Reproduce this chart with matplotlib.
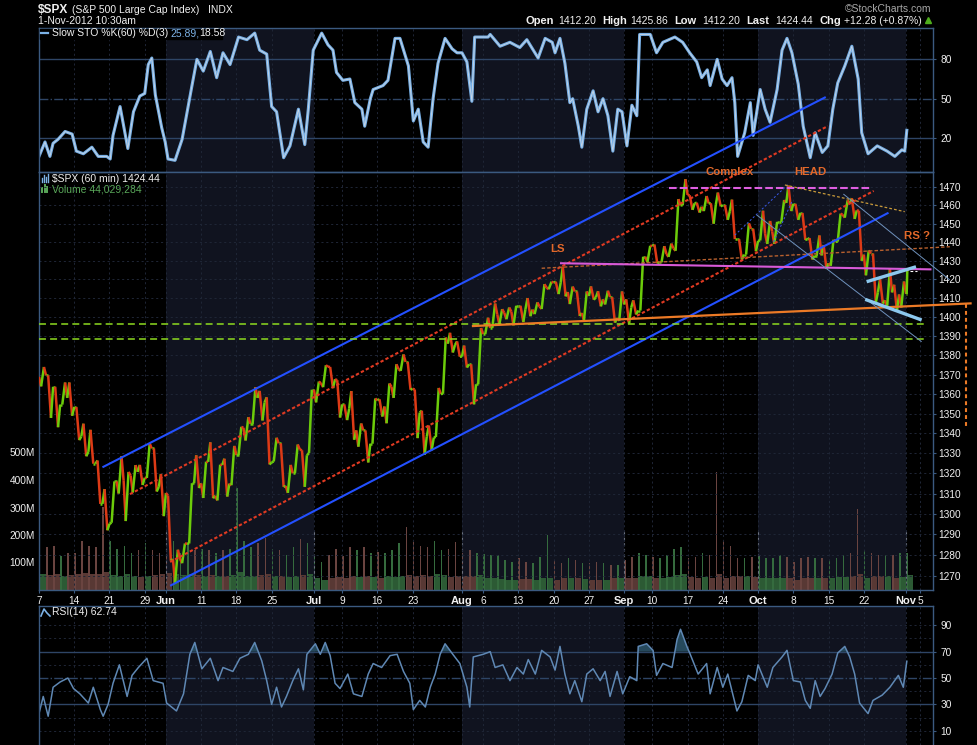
#!/usr/bin/env python3

"""$SPX 60 minute chart with slow stochastics, volume and RSI, StockCharts style."""

import matplotlib
matplotlib.use("Agg")
import matplotlib.pyplot as plt
from matplotlib.collections import LineCollection
from matplotlib.lines import Line2D
from matplotlib.patches import Rectangle
from matplotlib.ticker import NullLocator, NullFormatter

plt.rcParams['font.family'] = ['Liberation Sans', 'DejaVu Sans']
plt.rcParams['lines.scale_dashes'] = False

W, H = 977, 745

# x axis is the trading day number, 0 = 7 May 2012 ... 123 = 1 Nov 2012
tick_days = [0, 5, 10, 15, 18, 23, 28, 33, 39, 43, 48, 53, 60, 63, 68, 73, 78,
             83, 87, 92, 97, 102, 107, 112, 117, 123, 125]
tick_labels = ['7', '14', '21', '29', 'Jun', '11', '18', '25', 'Jul', '9', '16', '23',
               'Aug', '6', '13', '20', '27', 'Sep', '10', '17', '24', 'Oct', '8', '15',
               '22', 'Nov', '5']
month_starts = [18, 39, 60, 83, 102, 123]
shaded_months = [(18, 39), (60, 83), (102, 123)]

# daily prices (May, Jun, Jul, Aug, Sep, Oct + 1 Nov)
first_open = 1368.8
closes = [
    1369.6, 1363.7, 1354.6, 1358.0, 1353.4, 1338.4, 1330.7, 1324.8, 1304.9, 1295.2,
    1316.0, 1316.6, 1318.9, 1320.7, 1317.8, 1332.4, 1313.3, 1310.3,
    1278.0, 1278.2, 1285.5, 1315.1, 1315.0, 1325.7, 1308.9, 1324.2, 1314.9, 1329.1,
    1342.8, 1344.8, 1358.0, 1355.7, 1325.5, 1335.0, 1313.7, 1320.0, 1331.9, 1329.0, 1362.2,
    1365.5, 1374.0, 1367.6, 1354.7, 1352.5, 1341.5, 1341.5, 1334.8, 1356.8, 1353.6,
    1363.7, 1372.8, 1376.5, 1362.7, 1350.5, 1338.3, 1337.9, 1360.0, 1386.0, 1385.3, 1379.3,
    1375.3, 1365.0, 1391.0, 1394.2, 1401.4, 1402.2, 1402.8, 1405.9, 1404.1, 1403.9,
    1405.5, 1415.5, 1418.2, 1418.1, 1413.2, 1413.5, 1402.1, 1411.1, 1410.4, 1409.3,
    1410.5, 1399.5, 1406.6,
    1404.9, 1403.4, 1432.1, 1437.9, 1429.1, 1433.6, 1436.6, 1460.0, 1465.8, 1461.2,
    1459.3, 1461.1, 1460.3, 1460.2, 1456.9, 1441.6, 1433.3, 1447.2, 1440.7,
    1444.5, 1445.8, 1451.0, 1461.4, 1460.9, 1455.9, 1441.5, 1432.6, 1432.8, 1428.6,
    1440.1, 1454.9, 1460.9, 1457.3, 1433.2, 1433.8, 1413.1, 1408.8, 1413.0, 1411.9,
    1412.2, 1424.4,
]
highs = [
    1373.9, 1369.6, 1363.7, 1365.9, 1365.9, 1353.4, 1344.9, 1341.8, 1326.4, 1312.2,
    1316.0, 1328.5, 1320.7, 1324.1, 1324.2, 1334.9, 1332.4, 1319.7,
    1309.0, 1282.6, 1285.6, 1315.1, 1329.0, 1325.8, 1335.5, 1324.3, 1327.3, 1333.7,
    1343.3, 1348.2, 1363.5, 1361.6, 1358.3, 1337.8, 1335.0, 1324.2, 1334.4, 1331.5, 1362.2,
    1366.4, 1374.8, 1373.9, 1367.1, 1354.7, 1361.5, 1345.0, 1341.5, 1357.7, 1357.3,
    1365.4, 1375.3, 1380.4, 1376.5, 1362.3, 1351.5, 1343.9, 1363.1, 1389.2, 1391.7, 1387.2,
    1385.0, 1375.3, 1394.2, 1399.6, 1407.1, 1404.1, 1405.0, 1405.9, 1405.9, 1410.0,
    1407.7, 1417.4, 1418.7, 1418.7, 1426.7, 1416.1, 1413.5, 1413.5, 1416.2, 1413.6,
    1413.9, 1410.5, 1413.5,
    1409.3, 1408.8, 1432.1, 1438.0, 1438.7, 1437.8, 1439.2, 1463.5, 1474.5, 1465.6,
    1461.5, 1465.2, 1461.2, 1467.1, 1460.2, 1463.2, 1441.6, 1450.2, 1447.2,
    1457.1, 1451.5, 1451.0, 1463.0, 1471.0, 1460.9, 1455.9, 1442.2, 1443.6, 1438.4,
    1441.3, 1455.5, 1462.8, 1464.0, 1457.1, 1435.5, 1433.8, 1420.0, 1425.5, 1417.1,
    1418.8, 1425.9,
]
lows = [
    1363.9, 1347.8, 1343.1, 1354.6, 1348.9, 1336.6, 1328.5, 1324.8, 1304.9, 1292.0,
    1295.7, 1310.0, 1296.5, 1310.5, 1314.2, 1317.7, 1311.0, 1298.9,
    1277.3, 1266.7, 1276.1, 1285.6, 1312.7, 1307.8, 1307.7, 1306.6, 1308.5, 1314.1,
    1329.1, 1336.4, 1344.8, 1346.5, 1324.4, 1325.9, 1313.3, 1310.3, 1320.0, 1313.3, 1330.1,
    1355.7, 1363.5, 1363.0, 1348.0, 1346.7, 1336.8, 1333.3, 1325.4, 1334.8, 1348.5,
    1345.1, 1358.0, 1371.9, 1362.2, 1337.6, 1329.2, 1331.5, 1338.2, 1360.1, 1381.4, 1379.2,
    1373.6, 1354.7, 1365.0, 1391.0, 1394.2, 1396.1, 1398.8, 1395.6, 1397.3, 1400.4,
    1401.5, 1404.2, 1414.7, 1412.1, 1410.9, 1406.8, 1400.5, 1398.0, 1409.1, 1405.6,
    1406.6, 1397.0, 1398.0,
    1396.6, 1401.3, 1403.4, 1429.1, 1428.6, 1429.1, 1432.0, 1435.3, 1460.1, 1457.6,
    1456.1, 1456.9, 1450.0, 1459.5, 1452.1, 1441.6, 1430.5, 1433.3, 1435.0,
    1440.9, 1439.0, 1439.0, 1451.0, 1456.9, 1452.1, 1441.2, 1430.6, 1432.6, 1425.5,
    1427.2, 1440.3, 1453.3, 1452.6, 1429.9, 1422.1, 1407.6, 1407.1, 1405.1, 1403.3,
    1405.0, 1412.2,
]

# hourly volume, millions: the big bar of each day and the ordinary bars
vol_peak = [
    127, 157, 160, 124, 136, 136, 178, 160, 155, 303, 178, 150, 160, 133, 145, 170, 145, 133,
    127, 178, 133, 170, 145, 150, 145, 133, 145, 150, 371, 178, 155, 170, 190, 150, 145,
    127, 155, 184, 170,
    127, 103, 127, 150, 124, 155, 145, 155, 133, 139, 133, 145, 170, 230, 176, 160, 155,
    178, 145, 150, 176,
    136, 145, 136, 130, 127, 127, 109, 103, 115, 103, 97, 121, 200, 109, 97, 115, 109,
    97, 97, 103, 97, 91, 91,
    109, 121, 133, 127, 121, 115, 127, 150, 155, 115, 121, 133, 127, 430, 180, 160, 115,
    115, 121,
    127, 115, 115, 127, 121, 103, 115, 121, 115, 115, 109, 115, 127, 133, 295, 145, 133,
    127, 127, 127, 133, 136,
]
vol_base = [
    58, 55, 60, 52, 55, 60, 62, 58, 60, 65, 55, 52, 58, 50, 48, 52, 55, 58,
    62, 60, 55, 58, 55, 52, 55, 50, 52, 55, 65, 52, 50, 55, 58, 52, 50, 48, 52, 55, 60,
    45, 35, 45, 48, 45, 50, 48, 52, 48, 45, 50, 48, 50, 55, 52, 55, 50, 58, 55, 48, 50,
    52, 50, 55, 42, 45, 40, 38, 38, 40, 40, 38, 42, 45, 38, 45, 42, 45, 40, 35, 38, 38,
    42, 45,
    45, 42, 52, 50, 45, 45, 48, 55, 58, 48, 45, 48, 45, 60, 45, 50, 52, 50, 48,
    45, 45, 42, 45, 45, 38, 42, 45, 45, 45, 42, 48, 48, 50, 58, 45, 52, 50, 50, 45, 48, 55,
]

sto_day = [
    0.0, 0.85, 1.55, 2.0, 2.7, 3.7, 4.7, 5.3, 6.3, 7.5, 8.4, 9.6, 10.1, 10.5, 11.5, 12.6,
    13.4, 14.3, 15.0, 15.5, 16.0, 16.5, 17.4, 17.9, 18.3, 19.3, 20.3, 21.7, 22.4, 23.3,
    24.3, 25.2, 26.1, 27.1, 28.3, 29.5, 30.6, 31.3, 32.3, 33.0, 33.7, 34.7, 35.6, 36.8,
    37.7, 38.2, 38.9, 40.1, 41.0, 41.7, 42.2, 43.1, 44.1, 44.8, 45.8, 46.2, 47.0, 47.4,
    48.8, 49.5, 50.5, 51.2, 52.4, 53.1, 53.8, 54.5, 55.2, 55.9, 56.6, 57.6, 58.6, 59.3,
    60.0, 60.7, 61.4, 61.8, 63.7, 64.0, 65.4, 66.8, 68.2, 69.2, 70.8, 71.8, 72.8, 73.2,
    73.9, 74.6, 75.3, 75.7, 76.5, 77.0, 77.7, 78.6, 79.3, 80.0, 80.7, 81.4, 82.1, 82.7,
    83.4, 84.1, 84.8, 85.2, 86.7, 87.6, 88.5, 90.2, 91.3, 92.3, 93.3, 94.0, 94.8, 95.2,
    96.2, 96.9, 97.6, 98.3, 98.7, 99.1, 100.1, 100.9, 101.3, 102.3, 103.0, 103.7, 104.7,
    105.4, 106.1, 106.8, 107.7, 108.4, 109.4, 110.1, 111.1, 111.9, 112.6, 113.3, 114.3,
    115.3, 116.2, 116.7, 117.6, 118.9, 120.3, 121.4, 122.4, 122.8, 123.1,
]
sto_val = [
    6, 17, 6, 16, 19, 25, 23, 10, 8, 13, 6, 6, 4, 22, 44, 12,
    40, 52, 54, 76, 81, 53, 28, 17, 4, 3, 19, 60, 80, 71,
    86, 66, 85, 76, 97, 95, 100, 87, 84, 44, 40, 5, 14, 42,
    15, 42, 87, 100, 91, 87, 70, 64, 65, 47, 42, 29, 50, 57,
    60, 64, 96, 96, 75, 33, 42, 17, 13, 50, 77, 96, 88, 85,
    85, 78, 48, 97, 97, 99, 90, 93, 89, 95, 81, 96, 93, 85,
    96, 77, 47, 50, 29, 13, 42, 56, 40, 50, 37, 10, 42, 40,
    14, 45, 37, 99, 99, 85, 93, 97, 93, 85, 78, 66, 72, 60,
    80, 65, 60, 66, 47, 6, 24, 47, 22, 57, 42, 32, 57,
    87, 96, 85, 61, 29, 5, 24, 9, 14, 42, 62, 75,
    90, 65, 24, 8, 14, 10, 6, 11, 10, 25.89,
]

rsi_day = [
    0.0, 0.6, 1.3, 2.0, 3.0, 4.1, 4.9, 5.8, 7.0, 7.7, 8.7, 9.1, 9.8, 10.5, 11.4, 12.5,
    13.2, 14.1, 15.3, 16.2, 17.6, 18.1, 19.5, 20.5, 21.4, 22.1, 23.1, 24.3, 25.4, 26.1,
    27.5, 28.5, 29.7, 30.6, 31.6, 32.3, 33.0, 33.7, 34.4, 35.1, 36.0, 36.8, 37.5, 38.0,
    39.2, 39.9, 40.6, 41.3, 42.0, 42.7, 43.8, 44.6, 45.8, 46.7, 47.4, 48.6, 49.8, 50.8,
    51.7, 52.6, 53.1, 54.0, 54.8, 55.5, 56.2, 56.9, 57.6, 58.7, 59.7, 60.7, 61.1, 61.6,
    63.0, 64.0, 64.7, 65.8, 66.8, 67.8, 68.7, 69.4, 70.4, 71.3, 72.5, 73.2, 73.9, 74.6,
    75.3, 76.0, 77.0, 77.7, 78.6, 79.6, 80.3, 81.0, 82.0, 82.8, 83.8, 84.8, 85.0, 86.2,
    87.1, 87.6, 88.5, 89.8, 90.5, 91.0, 91.9, 92.3, 93.5, 94.7, 95.2, 96.2, 97.0, 97.7,
    99.0, 99.7, 100.6, 101.6, 102.0, 103.3, 104.1, 105.4, 106.1, 107.0, 108.0, 108.7,
    109.4, 110.1, 110.8, 111.5, 112.5, 113.3, 114.3, 115.0, 115.7, 116.4, 117.6, 118.3,
    119.6, 120.7, 121.9, 122.6, 123.1,
]
rsi_val = [
    23, 36, 21, 43, 47, 50, 42, 38, 31, 43, 26, 21, 30, 46, 60, 36,
    52, 58, 65, 48, 46, 31, 25, 38, 68, 77, 57, 65, 48, 58,
    55, 65, 68, 77, 63, 48, 30, 43, 28, 36, 48, 57, 41, 68,
    76, 68, 77, 67, 46, 42, 53, 38, 36, 53, 61, 58, 67, 68,
    55, 46, 26, 33, 28, 43, 53, 68, 76, 68, 61, 43, 28, 66,
    68, 70, 58, 60, 48, 58, 53, 64, 53, 71, 66, 56, 74, 53,
    38, 48, 32, 53, 57, 48, 55, 36, 55, 38, 51, 48, 74, 76,
    71, 52, 61, 58, 79, 87, 74, 69, 53, 61, 38, 58, 43, 53,
    25, 32, 52, 48, 60, 43, 58, 66, 71, 48, 47, 33,
    27, 48, 36, 42, 53, 69, 74, 66, 53, 31, 23, 33,
    37, 43, 52, 43, 62.74,
]

price_ticks = [1270, 1280, 1290, 1300, 1310, 1320, 1330, 1340, 1350, 1360, 1370,
               1380, 1390, 1400, 1410, 1420, 1430, 1440, 1450, 1460, 1470]
volume_ticks = [100, 200, 300, 400, 500]

# hand drawn annotations, (trading day, price) end points
blue_upper = [(9.0, 1323.0), (111.6, 1520.8)]
blue_lower = [(18.6, 1265.3), (120.5, 1456.0)]
red_upper = [(12.9, 1309.7), (111.9, 1504.3)]
red_lower = [(18.6, 1276.7), (118.4, 1468.0)]
green_levels = [1396.1, 1388.3]
neckline = [(61.4, 1395.2), (132.3, 1407.2)]
ls_dashed = [(71.3, 1425.9), (129.2, 1437.5)]
magenta_line = [(73.9, 1428.6), (126.6, 1425.3)]
top_dashed = [(89.3, 1469.8), (118.1, 1469.8)]
small_blue_a = [(98.7, 1443.8), (106.3, 1471.8)]
small_blue_b = [(104.2, 1440.1), (106.8, 1462.1)]
head_line = [(105.8, 1471.3), (122.8, 1456.6)]
steel_a = [(101.8, 1454.8), (125.2, 1387.0)]
steel_b = [(114.1, 1466.3), (129.2, 1419.6)]
wedge_upper = [(117.4, 1418.7), (124.4, 1426.7)]
wedge_lower = [(117.2, 1409.3), (125.2, 1398.4)]
target_drop = [(131.5, 1407.0), (131.5, 1343.4)]

BG_SHADE = '#10131f'
SPINE = '#3b5a80'
GRID = '#1f2636'
LEVEL = '#2e4566'
UP = '#6ccc0a'
DOWN = '#dd3a16'
ORANGE = '#e2682a'
TXT = '#f0f0f0'


def fx(x):
    return x / W


def fy(y):
    return 1 - y / H


def style_axes(ax, shade=True):
    ax.set_facecolor('black')
    for side in ax.spines.values():
        side.set_color(SPINE)
        side.set_linewidth(1.0)
    ax.tick_params(colors=SPINE, labelcolor=TXT, labelsize=7.3, length=2, width=0.8)
    ax.set_xlim(0, 126.77)
    if shade:
        for a, b in shaded_months:
            ax.axvspan(a, b, color=BG_SHADE, lw=0, zorder=0)
    for d in tick_days:
        ax.axvline(d, color=GRID, lw=0.7, ls=(0, (1.5, 2)), zorder=0.5)


def draw_line(ax, pts, color, lw, dashes=None, z=4):
    (x0, y0), (x1, y1) = pts
    line, = ax.plot([x0, x1], [y0, y1], color=color, lw=lw, clip_on=False,
                    zorder=z, solid_capstyle='butt')
    if dashes:
        line.set_dashes(dashes)


def draw_price(ax):
    segs, cols = [], []
    prev = first_open
    last = len(closes) - 1
    for i in range(len(closes)):
        span = 0.25 if i == last else 1.0
        if closes[i] >= prev:
            path = [prev, lows[i], highs[i], closes[i]]
        else:
            path = [prev, highs[i], lows[i], closes[i]]
        xs = [i, i + 0.3 * span, i + 0.7 * span, i + span]
        for k in range(3):
            segs.append([(xs[k], path[k]), (xs[k + 1], path[k + 1])])
            cols.append(UP if path[k + 1] >= path[k] else DOWN)
        prev = closes[i]
    ax.add_collection(LineCollection(segs, colors=cols, linewidths=1.8, zorder=3))


def main():
    fig = plt.figure(figsize=(W / 100, H / 100), dpi=100, facecolor='black')
    width = (932.7 - 39) / W

    # slow stochastics panel
    ax_s = fig.add_axes([fx(39), fy(172), width, (172 - 28) / H])
    style_axes(ax_s)
    ax_s.set_ylim(-5.9, 103.9)
    for lvl in (20, 80):
        ax_s.axhline(lvl, color=LEVEL, lw=1.0, zorder=0.6)
    ax_s.axhline(50, color=LEVEL, lw=1.0, ls='-.', zorder=0.6)
    ax_s.plot(sto_day, sto_val, color='#78b0e6', lw=2.2, zorder=2)
    ax_s.plot(sto_day, sto_val, color='#c9d6e4', lw=0.6, zorder=2.1)
    ax_s.yaxis.tick_right()
    ax_s.set_yticks([20, 50, 80])
    ax_s.set_xticks([])

    # price + volume panel; month shading lives on the volume axes underneath
    ax = fig.add_axes([fx(39), fy(590), width, (590 - 172) / H])
    style_axes(ax, shade=False)
    ax_v = ax.twinx()
    ax.set_zorder(2)
    ax.patch.set_visible(False)
    for side in ax_v.spines.values():
        side.set_visible(False)

    ax.set_yscale('log')
    ax.set_ylim(1263.3, 1478.5)
    ax.yaxis.tick_right()
    ax.set_yticks(price_ticks, labels=[str(p) for p in price_ticks])
    ax.yaxis.set_minor_locator(NullLocator())
    ax.yaxis.set_minor_formatter(NullFormatter())
    for p in price_ticks:
        ax.axhline(p, color=GRID, lw=0.7, ls=(0, (1.5, 2)), zorder=0.5)

    ax.set_xticks(tick_days, labels=tick_labels)
    for lab in ax.get_xticklabels():
        if not lab.get_text().isdigit():
            lab.set_fontweight('bold')
            lab.set_fontsize(8)
    ax.tick_params(axis='x', pad=2)
    ax.tick_params(axis='y', pad=2)

    # volume
    ax_v.set_ylim(0, 1520)
    ax_v.yaxis.tick_left()
    ax_v.set_yticks(volume_ticks, labels=[f'{v}M' for v in volume_ticks])
    ax_v.tick_params(colors=SPINE, labelcolor=TXT, labelsize=7.3, length=0, pad=3)
    for a, b in shaded_months:
        ax_v.axvspan(a, b, color=BG_SHADE, lw=0, zorder=0)
    for d in month_starts:
        ax_v.axvline(d, ymax=0.14, color='#6c7280', lw=0.8, ls=(0, (2, 2)), zorder=2)
    days = list(range(len(closes)))
    prev = [first_open] + closes[:-1]
    base_cols = ['#2c5a34' if c >= p else '#583834' for c, p in zip(closes, prev)]
    peak_cols = ['#356b3e' if c >= p else '#6a4440' for c, p in zip(closes, prev)]
    ax_v.bar([d + 0.5 for d in days], vol_base, width=0.85, color=base_cols, lw=0, zorder=1)
    ax_v.bar([d + 0.1 for d in days], vol_peak, width=0.22, color=peak_cols, lw=0, zorder=1)

    draw_price(ax)

    # annotations
    draw_line(ax, blue_upper, '#2350ff', 1.5)
    draw_line(ax, blue_lower, '#2350ff', 1.5)
    draw_line(ax, red_upper, '#e03a22', 1.5, (2.4, 1.6))
    draw_line(ax, red_lower, '#e03a22', 1.5, (2.4, 1.6))
    for lvl in green_levels:
        draw_line(ax, [(0, lvl), (125.7, lvl)], '#8edb20', 1.1, (5, 3))
    draw_line(ax, neckline, '#ec7a26', 1.6)
    draw_line(ax, ls_dashed, '#b8602e', 1.0, (2.5, 1.5))
    draw_line(ax, magenta_line, '#d85ad8', 1.5)
    draw_line(ax, top_dashed, '#de5ee0', 1.5, (5.5, 2.2))
    draw_line(ax, small_blue_a, '#3a5ae8', 0.7, (1.5, 1.5))
    draw_line(ax, small_blue_b, '#3a5ae8', 0.7, (1.5, 1.5))
    draw_line(ax, head_line, '#c89a3a', 0.9, (2, 1.5))
    draw_line(ax, steel_a, '#6f92bd', 0.7)
    draw_line(ax, steel_b, '#6f92bd', 0.7)
    draw_line(ax, wedge_upper, '#8cc8ee', 2.4)
    draw_line(ax, wedge_lower, '#8cc8ee', 2.4)
    draw_line(ax, target_drop, '#ec7a26', 1.5, (2.8, 2.2))
    draw_line(ax, [(123.6, closes[-1]), (124.6, closes[-1])], 'white', 0.8, (2, 1.5))

    label_style = dict(color=ORANGE, fontsize=8.2, fontweight='bold',
                       ha='center', va='center', clip_on=False, zorder=6)
    ax.text(73.5, 1436.3, 'LS', **label_style)
    ax.text(98.0, 1478.5, 'Complex', **label_style)
    ax.text(109.4, 1478.5, 'HEAD', **label_style)
    ax.text(124.5, 1443.1, 'RS ?', **label_style)

    # RSI panel
    ax_r = fig.add_axes([fx(39), 0, width, (745 - 605.7) / H])
    style_axes(ax_r)
    ax_r.spines['bottom'].set_visible(False)
    ax_r.set_ylim(-0.85, 104.9)
    for lvl in (20, 40, 60, 80, 90, 10):
        ax_r.axhline(lvl, color=GRID, lw=0.7, ls=(0, (1.5, 2)), zorder=0.5)
    for lvl in (30, 70):
        ax_r.axhline(lvl, color=LEVEL, lw=1.0, zorder=0.6)
    ax_r.axhline(50, color=LEVEL, lw=1.0, ls='-.', zorder=0.6)
    ax_r.fill_between(rsi_day, rsi_val, 70, where=[v > 70 for v in rsi_val],
                      interpolate=True, color='#26495c', lw=0, zorder=1)
    ax_r.plot(rsi_day, rsi_val, color='#5f88b4', lw=1.1, zorder=2)
    ax_r.yaxis.tick_right()
    ax_r.set_yticks([10, 30, 50, 70, 90])
    ax_r.set_xticks([])

    # header
    fig.text(fx(37.5), fy(10), '$SPX', color=TXT, fontsize=8.6, fontweight='bold', va='center')
    fig.text(fx(72), fy(10), '(S&P 500 Large Cap Index)', color=TXT, fontsize=7.5, va='center')
    fig.text(fx(208), fy(10), 'INDX', color=TXT, fontsize=7.5, va='center')
    fig.text(fx(38), fy(20.5), '1-Nov-2012 10:30am', color=TXT, fontsize=7.5, va='center')
    fig.text(fx(931.5), fy(8.5), '\u00a9StockCharts.com', color='#a8a8a8', fontsize=7.5,
             ha='right', va='center')
    quote = [(526, 'Open', True), (558.5, '1412.20', False), (602.5, 'High', True),
             (630.5, '1425.86', False), (674, 'Low', True), (702.5, '1412.20', False),
             (746.5, 'Last', True), (775, '1424.44', False), (819, 'Chg', True),
             (844.5, '+12.28 (+0.87%)', False)]
    for x, s, bold in quote:
        fig.text(fx(x), fy(20.5), s, color=TXT, fontsize=8 if bold else 7.5,
                 fontweight='bold' if bold else 'normal', va='center')
    fig.add_artist(Line2D([fx(928)], [fy(20)], marker='^', color='#4fae1c',
                          markersize=4.5, lw=0))

    # panel legends
    fig.add_artist(Rectangle((fx(39.5), fy(38.5)), (222 - 39.5) / W, 10 / H,
                             transform=fig.transFigure, color='black', zorder=1))
    fig.add_artist(Line2D([fx(41), fx(48)], [fy(33), fy(33)], color='#7cb2e6', lw=1.6))
    fig.text(fx(51.5), fy(33.3), 'Slow STO %K(60) %D(3)', color=TXT, fontsize=7.5, va='center')
    fig.text(fx(170), fy(33.3), '25.89,', color='#7cb2e6', fontsize=7.5, va='center')
    fig.text(fx(199), fy(33.3), '18.58', color=TXT, fontsize=7.5, va='center')

    for k, h in enumerate([4, 7, 5, 8]):
        fig.add_artist(Line2D([fx(42 + 2 * k)] * 2, [fy(182), fy(182 - h)],
                              color='#7cb2e6', lw=1.0))
    fig.text(fx(52), fy(179), '$SPX (60 min) 1424.44', color=TXT, fontsize=7.5, va='center')
    for k, h in enumerate([4, 7, 5]):
        fig.add_artist(Line2D([fx(42 + 2.5 * k)] * 2, [fy(192), fy(192 - h)],
                              color='#5aa85a', lw=1.4))
    fig.text(fx(52), fy(189), 'Volume 44,029,284', color='#5aa85a', fontsize=7.5, va='center')

    fig.add_artist(Line2D([fx(41), fx(44), fx(47), fx(50)],
                          [fy(616), fy(609), fy(613), fy(616)], color='#7cb2e6', lw=1.2))
    fig.text(fx(51.5), fy(612), 'RSI(14) 62.74', color=TXT, fontsize=7.5, va='center')

    fig.savefig('out.png', dpi=100, facecolor='black')


if __name__ == "__main__":
    main()
